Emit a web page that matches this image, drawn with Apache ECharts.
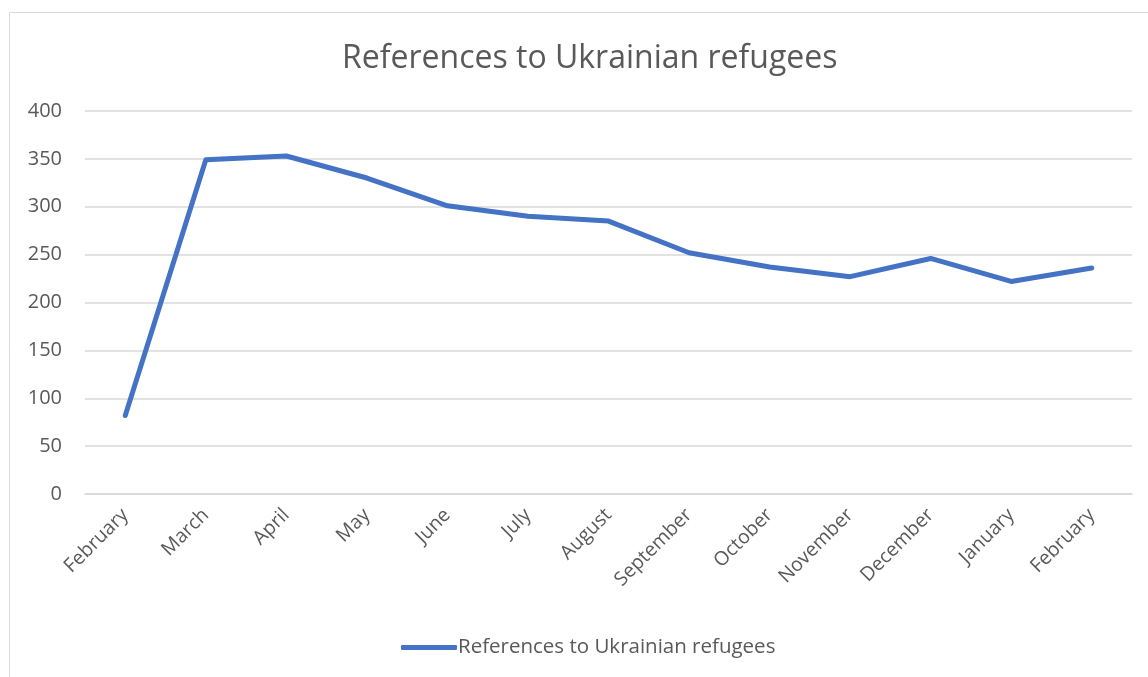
<!DOCTYPE html>
<html><head><meta charset="utf-8">
<script src="https://cdn.jsdelivr.net/npm/echarts@6/dist/echarts.min.js"></script>
<style>html,body{margin:0;padding:0;background:#fff}#c{width:1148px;height:677px}</style>
</head><body><div id="c"></div>
<script>
const titleText = 'References to Ukrainian refugees';
const seriesName = 'References to Ukrainian refugees';
const categories = ['February','March','April','May','June','July','August','September','October','November','December','January','February'];
const values = [82, 349, 353, 330, 301, 290, 285, 252, 237, 227, 246, 222, 236];
const yTicks = [0, 50, 100, 150, 200, 250, 300, 350, 400];

const font = '"Open Sans", "Noto Sans", sans-serif';
const chart = echarts.init(document.getElementById('c'));
chart.setOption({
  animation: false,
  backgroundColor: '#fff',
  graphic: [{type:'rect', shape:{x:9.5,y:12.5,width:1300,height:800}, style:{fill:'none', stroke:'#d9d9d9', lineWidth:1}, silent:true}],
  title: {text: titleText, left: 337, top: 38, textStyle:{fontFamily:font, fontSize:32, fontWeight:'normal', color:'#595959'}},
  legend: {bottom: 14, left: 396, itemWidth: 56, itemHeight: 5, itemGap: 4, icon: 'roundRect',
    textStyle:{fontFamily:font, fontSize:20.5, color:'#595959', padding:[0,0,0,-4]}, data:[seriesName]},
  grid: {left: 85, right: 16, top: 111, bottom: 183},
  xAxis: {type:'category', data: categories, boundaryGap: true,
    axisLine:{show:true, lineStyle:{color:'#d9d9d9', width:1.5}}, axisTick:{show:false},
    axisLabel:{rotate:45, fontFamily:font, fontSize:19.5, color:'#595959', margin:18, interval:0}},
  yAxis: {type:'value', min: yTicks[0], max: yTicks[yTicks.length-1], interval: 50,
    axisLine:{show:false}, axisTick:{show:false},
    axisLabel:{fontFamily:font, fontSize:20, color:'#595959', margin:23},
    splitLine:{lineStyle:{color:'#d9d9d9', width:1.5}}},
  series: [{name: seriesName, type:'line', data: values, symbol:'none',
    lineStyle:{color:'#4472C4', width:5, cap:'round', join:'round'}, itemStyle:{color:'#4472C4'}}]
});
</script></body></html>
